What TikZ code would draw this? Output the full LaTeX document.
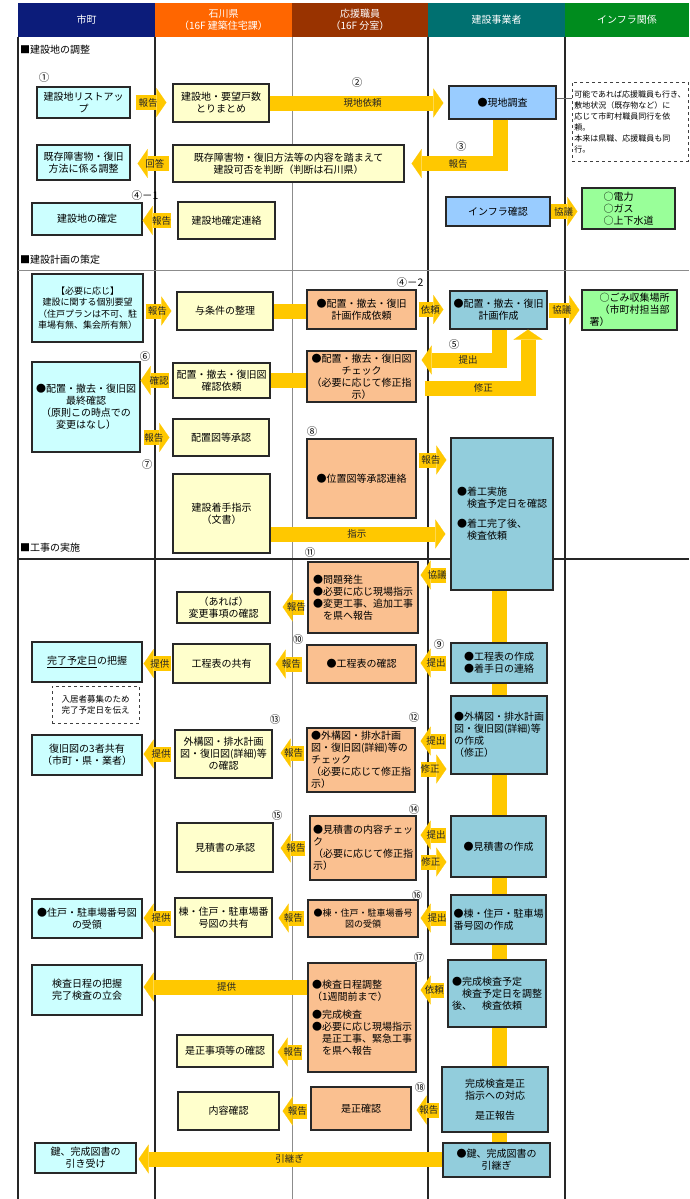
\documentclass[tikz,border=0pt]{standalone}
\usepackage{fontspec}
\setmainfont{Noto Sans CJK JP}
\usetikzlibrary{arrows.meta,backgrounds}
\definecolor{hnavy}{RGB}{12,28,122}
\definecolor{horange}{RGB}{255,102,0}
\definecolor{hbrown}{RGB}{153,51,0}
\definecolor{hteal}{RGB}{0,112,112}
\definecolor{hgreen}{RGB}{0,140,30}
\definecolor{gold}{RGB}{255,200,0}
\definecolor{cyfill}{RGB}{204,255,255}
\definecolor{ylfill}{RGB}{255,255,204}
\definecolor{orfill}{RGB}{250,192,144}
\definecolor{blA}{RGB}{153,204,255}
\definecolor{blB}{RGB}{146,205,220}
\definecolor{grfill}{RGB}{153,255,153}
\definecolor{bord}{RGB}{40,40,40}
\newcommand\bx[7]{\node[#2, minimum width={(#5)-(#3)}, minimum height={(#6)-(#4)}] (#1) at ({((#3)+(#5))/2},{((#4)+(#6))/2}) {#7};}
\tikzset{
 box/.style={draw=bord, line width=1.3pt, inner sep=2pt, align=center, font=\fontsize{10}{12}\selectfont},
 cy/.style={box, fill=cyfill},
 yl/.style={box, fill=ylfill},
 orb/.style={box, fill=orfill},
 bla/.style={box, fill=blA},
 blb/.style={box, fill=blB},
 grb/.style={box, fill=grfill, align=left},
 hd/.style={text=white, align=center, font=\fontsize{10}{11.5}\selectfont, inner sep=0pt},
 notebox/.style={draw=black!75, dashed, line width=0.8pt, fill=white, align=left, inner sep=2pt, font=\fontsize{8}{11}\selectfont},
 ya/.style={draw=gold, line width=15pt, line join=miter, -{Triangle[width=29pt,length=10pt,line width=0.1pt]}},
 yb/.style={draw=gold, line width=15pt},
 lab/.style={font=\fontsize{9.5}{10}\selectfont, text=black!85, inner sep=0pt},
 num/.style={font=\fontsize{10.5}{10.5}\selectfont, inner sep=0pt},
 sec/.style={font=\fontsize{10}{10}\selectfont, inner sep=0pt, anchor=west},
 gl/.style={draw=black!85, line width=1.2pt},
 glg/.style={draw=black!45, line width=1pt},
}
\begin{document}
\begin{tikzpicture}[x=1pt,y=-1pt]
\useasboundingbox (0,0) rectangle (689,1199);
% header
\bx{h1}{hd,fill=hnavy}{18}{3}{155}{37}{市町}
\bx{h2}{hd,fill=horange}{155}{3}{292}{37}{石川県\\（16F 建築住宅課）}
\bx{h3}{hd,fill=hbrown}{292}{3}{428}{37}{応援職員\\（16F 分室）}
\bx{h4}{hd,fill=hteal}{428}{3}{565}{37}{建設事業者}
\bx{h5}{hd,fill=hgreen}{565}{3}{689}{37}{インフラ関係}
% grid
\draw[gl] (18,37) -- (18,1199);
\draw[gl] (155,37) -- (155,1199);
\draw[glg] (292,37) -- (292,1199);
\draw[gl] (428,37) -- (428,1199);
\draw[gl] (565,37) -- (565,1199);
\draw[glg] (18,270) -- (689,270);
\draw[gl] (18,559) -- (689,559);
% section labels
\node[sec] (s1) at (20,50) {■建設地の調整};
\node[sec] (s2) at (20,260) {■建設計画の策定};
\node[sec] (s3) at (20,548) {■工事の実施};
% circled numbers
\node[num] (c1) at (44,78) {①};
\node[num] (c2) at (357,83) {②};
\node[num] (c3) at (461,147) {③};
\node[num] (c4a) at (145,196) {④－1};
\node[num] (c4b) at (410,283) {④－2};
\node[num] (c5) at (454,345) {⑤};
\node[num] (c6) at (145,357) {⑥};
\node[num] (c7) at (147,465) {⑦};
\node[num] (c8) at (312,432) {⑧};
\node[num] (c11) at (310,553) {⑪};
\node[num] (c10) at (298,640) {⑩};
\node[num] (c9) at (439,645) {⑨};
\node[num] (c13) at (275,720) {⑬};
\node[num] (c12) at (414,718) {⑫};
\node[num] (c14) at (414,810) {⑭};
\node[num] (c15) at (277,815) {⑮};
\node[num] (c16) at (417,895) {⑯};
\node[num] (c17) at (419,957) {⑰};
\node[num] (c18) at (420,1087) {⑱};
% section 1
\bx{n1}{cy}{37}{87}{130}{118}{建設地リストアッ\\プ}
\bx{n2}{yl}{173}{84}{269}{122}{建設地・要望戸数\\とりまとめ}
\bx{b1}{bla}{449}{86}{556}{119}{●現地調査}
\bx{note}{notebox}{572}{82}{688}{161}{可能であれば応援職員も行き、\\敷地状況（既存物など）に\\応じて市町村職員同行を依\\頼。\\本来は県職、応援職員も同\\行。}
\bx{n3}{yl}{173}{145}{404}{182}{既存障害物・復旧方法等の内容を踏まえて\\建設可否を判断（判断は石川県）}
\bx{n4}{cy}{37}{145}{130}{180}{既存障害物・復旧\\方法に係る調整}
\bx{n5}{cy}{32}{203}{142}{235}{建設地の確定}
\bx{n6}{yl}{178}{202}{275}{239}{建設地確定連絡}
\bx{b2}{bla}{446}{197}{550}{226}{インフラ確認}
\bx{g1}{grb}{582}{188}{675}{229}{○電力\\○ガス\\○上下水道}
% section 2
\bx{n7}{cy,font=\fontsize{9}{11.5}\selectfont}{32}{274}{143}{342}{【必要に応じ】\\建設に関する個別要望\\（住戸プランは不可、駐\\車場有無、集会所有無）}
\bx{n8}{yl}{177}{292}{273}{330}{与条件の整理}
\bx{o1}{orb}{307}{290}{416}{329}{●配置・撤去・復旧\\計画作成依頼}
\bx{b3}{blb}{450}{291}{547}{329}{●配置・撤去・復旧\\計画作成}
\bx{g2}{grb}{582}{290}{677}{330}{　○ごみ収集場所\\　（市町村担当部\\署）}
\bx{o2}{orb}{307}{351}{416}{402}{●配置・撤去・復旧図\\チェック\\（必要に応じて修正指\\示）}
\bx{n9}{yl}{173}{363}{270}{398}{配置・撤去・復旧図\\確認依頼}
\bx{n10}{cy}{32}{362}{140}{452}{●配置・撤去・復旧図\\最終確認\\（原則この時点での\\変更はなし）}
\bx{n11}{yl}{173}{419}{269}{456}{配置図等承認}
\bx{o3}{orb}{307}{439}{416}{518}{●位置図等承認連絡}
\bx{b4}{blb,align=left}{451}{438}{553}{590}{●着工実施\\　検査予定日を確認\\[8pt]●着工完了後、\\　検査依頼}
\bx{n12}{yl}{173}{474}{270}{553}{建設着手指示\\（文書）}
% section 3
\bx{o4}{orb,align=left}{308}{562}{418}{633}{●問題発生\\●必要に応じ現場指示\\●変更工事、追加工事\\　を県へ報告}
\bx{n13}{yl}{177}{592}{270}{623}{（あれば）\\変更事項の確認}
\bx{o5}{orb}{307}{645}{416}{683}{●工程表の確認}
\bx{b5}{blb,align=left}{451}{643}{547}{683}{●工程表の作成\\●着手日の連絡}
\bx{n14}{yl}{173}{644}{270}{683}{工程表の共有}
\bx{n15}{cy}{32}{642}{142}{682}{\underline{完了予定日}の把握}
\bx{d2}{notebox,align=center,font=\fontsize{8.5}{11}\selectfont}{52}{686}{139}{723}{入居者募集のため\\完了予定日を伝え}
\bx{n16}{yl}{175}{730}{272}{778}{外構図・排水計画\\図・復旧図(詳細)等\\の確認}
\bx{o6}{orb,align=left}{307}{728}{415}{792}{●外構図・排水計画\\図・復旧図(詳細)等の\\チェック\\（必要に応じて修正指\\示）}
\bx{b6}{blb,align=left}{451}{696}{547}{774}{●外構図・排水計画\\図・復旧図(詳細)等\\の作成\\（修正）}
\bx{n17}{cy}{32}{735}{142}{775}{復旧図の3者共有\\（市町・県・業者）}
\bx{o7}{orb,align=left}{310}{816}{416}{880}{●見積書の内容チェッ\\ク\\（必要に応じて修正指\\示）}
\bx{b7}{blb,align=left}{451}{816}{546}{877}{●見積書の作成}
\bx{n18}{yl}{177}{823}{273}{872}{見積書の承認}
\bx{b8}{blb,align=left}{451}{895}{546}{944}{●棟・住戸・駐車場\\番号図の作成}
\bx{o8}{orb,font=\fontsize{9}{11.5}\selectfont}{308}{900}{418}{937}{●棟・住戸・駐車場番号\\図の受領}
\bx{n19}{yl}{175}{898}{272}{937}{棟・住戸・駐車場番\\号図の共有}
\bx{n20}{cy}{32}{899}{142}{938}{●住戸・駐車場番号図\\の受領}
\bx{o9}{orb,align=left}{308}{963}{416}{1072}{●検査日程調整\\（1週間前まで）\\[6pt]●完成検査\\●必要に応じ現場指示\\　是正工事、緊急工事\\　を県へ報告}
\bx{b9}{blb,align=left}{448}{960}{546}{1027}{●完成検査予定\\　検査予定日を調整\\後、　検査依頼}
\bx{n21}{cy}{32}{965}{142}{1015}{検査日程の把握\\完了検査の立会}
\bx{n22}{yl}{177}{1035}{273}{1067}{是正事項等の確認}
\bx{b10}{blb}{442}{1067}{548}{1132}{完成検査是正\\指示への対応\\[8pt]是正報告}
\bx{o10}{orb}{311}{1087}{411}{1130}{是正確認}
\bx{n23}{yl}{178}{1092}{279}{1130}{内容確認}
\bx{b11}{blb}{443}{1143}{550}{1177}{●鍵、完成図書の\\引継ぎ}
\bx{n24}{cy}{35}{1143}{136}{1173}{鍵、完成図書の\\引き受け}
% vertical bar behind builder boxes
\begin{scope}[on background layer]
\draw[yb] (b4.south -| 499,0) -- (b11.north -| 499,0);
\end{scope}
% connectors section 1
\draw[ya, shorten <=5pt, shorten >=6pt] (n1.east) -- (n2.west |- n1.east) node[lab,pos=0.42]{報告};
\draw[ya, shorten >=5pt] (n2.east) -- (b1.west |- n2.east) node[lab,pos=0.52]{現地依頼};
\draw[ya, shorten >=7pt] (b1.south -| 500,0) |- (n3.east) node[lab,pos=0.72]{報告};
\draw[ya, shorten <=3pt, shorten >=7pt] (n3.west) -- (n4.east |- n3.west) node[lab,pos=0.42]{回答};
\draw[ya, shorten <=6pt] (n6.west) -- (n5.east |- n6.west) node[lab,pos=0.45]{報告};
\draw[ya, shorten >=4pt] (b2.east) -- (g1.west |- b2.east) node[lab,pos=0.42]{協議};
\draw[black!60, line width=0.8pt] (b1.east |- 0,98) -- (note.west |- 0,98);
% section 2
\draw[ya, shorten <=2pt, shorten >=5pt] (n7.east |- n8.west) -- (n8.west) node[lab,pos=0.42]{報告};
\draw[yb] (n8.east) -- (o1.west |- n8.east);
\draw[ya, shorten <=2pt, shorten >=6pt] (o1.east) -- (b3.west |- o1.east) node[lab,pos=0.42]{依頼};
\draw[ya, shorten <=1pt, shorten >=2pt] (b3.east) -- (g2.west |- b3.east) node[lab,pos=0.42]{協議};
\draw[ya, shorten >=5pt] (b3.south -| 499.5,0) |- (o2.east |- 0,360) node[lab,pos=0.69]{提出};
\draw[ya, shorten <=8pt] (o2.east |- 0,388) -| (b3.south -| 528,0) node[lab,pos=0.3]{修正};
\draw[yb] (n9.east) -- (o2.west |- n9.east);
\draw[ya, shorten <=3pt] (n9.west) -- (n10.east |- n9.west) node[lab,pos=0.42]{確認};
\draw[ya, shorten <=3pt, shorten >=3pt] (n10.east |- n11.west) -- (n11.west) node[lab,pos=0.42]{報告};
\draw[ya, shorten <=2pt, shorten >=4pt] (o3.east |- 0,460) -- (b4.west |- 0,460) node[lab,pos=0.42]{報告};
\draw[ya, shorten >=5pt] (n12.east |- 0,534) -- (b4.west |- 0,534) node[lab,pos=0.48]{指示};
% section 3
\draw[ya, shorten <=4pt, shorten >=2pt] (b4.west |- 0,575) -- (o4.east |- 0,575) node[lab,pos=0.42]{協議};
\draw[ya, shorten <=3pt, shorten >=12pt] (o4.west |- 0,607) -- (n13.east |- 0,607) node[lab,pos=0.3]{報告};
\draw[ya, shorten <=4pt, shorten >=4pt] (b5.west) -- (o5.east |- b5.west) node[lab,pos=0.42]{提出};
\draw[ya, shorten <=4pt, shorten >=5pt] (o5.west) -- (n14.east |- o5.west) node[lab,pos=0.42]{報告};
\draw[ya, shorten <=1pt, shorten >=1pt] (n14.west) -- (n15.east |- n14.west) node[lab,pos=0.42]{提供};
\draw[ya, shorten <=4pt, shorten >=5pt] (b6.west |- 0,741) -- (o6.east |- 0,741) node[lab,pos=0.42]{提出};
\draw[ya, shorten <=5pt, shorten >=4pt] (o6.east |- 0,769) -- (b6.west |- 0,769) node[lab,pos=0.42]{修正};
\draw[ya, shorten <=2pt, shorten >=8pt] (o6.west |- 0,753) -- (n16.east |- 0,753) node[lab,pos=0.38]{報告};
\draw[ya, shorten <=3pt, shorten >=1pt] (n16.west |- 0,754) -- (n17.east |- 0,754) node[lab,pos=0.42]{提供};
\draw[ya, shorten <=4pt, shorten >=4pt] (b7.west |- 0,835) -- (o7.east |- 0,835) node[lab,pos=0.42]{提出};
\draw[ya, shorten <=4pt, shorten >=4pt] (o7.east |- 0,862) -- (b7.west |- 0,862) node[lab,pos=0.42]{修正};
\draw[ya, shorten <=4pt, shorten >=7pt] (o7.west |- 0,848) -- (n18.east |- 0,848) node[lab,pos=0.38]{報告};
\draw[ya, shorten <=4pt, shorten >=2pt] (b8.west |- 0,918) -- (o8.east |- 0,918) node[lab,pos=0.42]{提出};
\draw[ya, shorten <=3pt, shorten >=6pt] (o8.west |- 0,918) -- (n19.east |- 0,918) node[lab,pos=0.4]{報告};
\draw[ya, shorten <=3pt, shorten >=1pt] (n19.west |- 0,918) -- (n20.east |- 0,918) node[lab,pos=0.42]{提供};
\draw[ya, shorten <=3pt, shorten >=4pt] (b9.west |- 0,990) -- (o9.east |- 0,990) node[lab,pos=0.42]{依頼};
\draw[ya, shorten >=1pt] (o9.west |- 0,987) -- (n21.east |- 0,987) node[lab,pos=0.49]{提供};
\draw[ya, shorten <=5pt, shorten >=4pt] (o9.west |- 0,1052) -- (n22.east |- 0,1052) node[lab,pos=0.42]{報告};
\draw[ya, shorten <=2pt, shorten >=5pt] (b10.west |- 0,1110) -- (o10.east |- 0,1110) node[lab,pos=0.42]{報告};
\draw[ya, shorten <=3pt, shorten >=3pt] (o10.west |- 0,1111) -- (n23.east |- 0,1111) node[lab,pos=0.42]{報告};
\draw[ya, shorten >=2pt] (b11.west |- 0,1159) -- (n24.east |- 0,1159) node[lab,pos=0.5]{引継ぎ};
\end{tikzpicture}
\end{document}
